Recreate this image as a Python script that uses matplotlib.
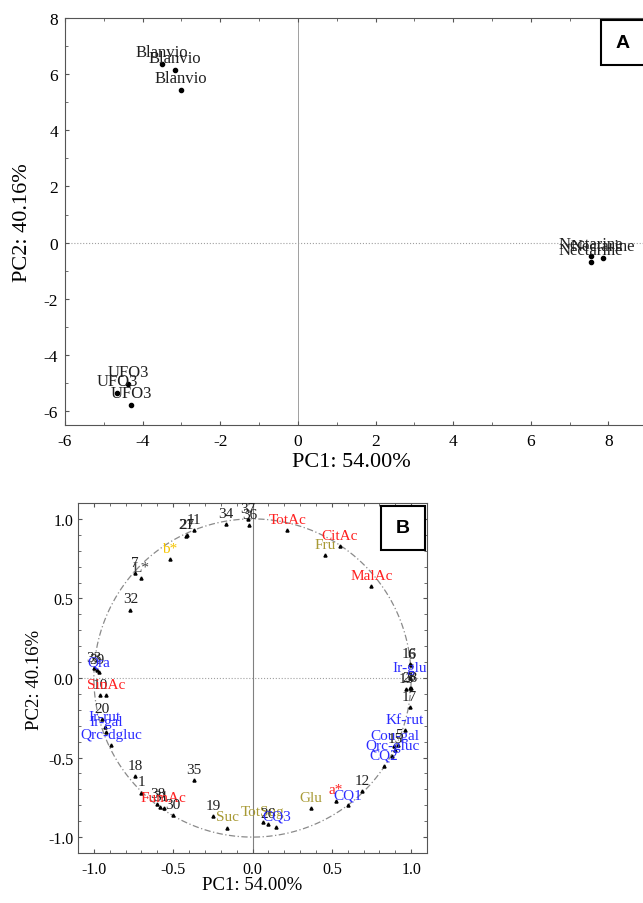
import numpy as np
import matplotlib.pyplot as plt
from matplotlib.patches import Rectangle
from matplotlib.ticker import MultipleLocator

plt.rcParams["font.family"] = ["Liberation Serif", "DejaVu Serif"]
plt.rcParams["axes.unicode_minus"] = False

# Panel A: sample scores
a_labels = ["Blanvio", "Blanvio", "Blanvio",
            "Nectarine", "Nectarine", "Nectarine",
            "UFO3", "UFO3", "UFO3"]
a_x = [-3.50, -3.16, -3.01, 7.54, 7.85, 7.54, -4.30, -4.65, -4.38]
a_y = [6.35, 6.16, 5.43, -0.70, -0.55, -0.49, -5.80, -5.35, -5.05]

# Panel B: variable loadings
b_labels = ["37", "36", "34", "11", "21", "27", "7", "L*", "b*", "32",
            "33", "39", "Qra", "10", "SinAc", "20", "Ir-rut", "Ir-gal", "Qrc-dgluc",
            "18", "1", "38", "31", "FumAc", "30", "35", "19", "Suc", "TotSug",
            "26", "CQ3", "Glu", "a*", "CQ1", "12", "CQ2", "Qrc-gluc", "Cou-gal",
            "15", "5", "Kf-rut", "17", "13", "28", "8", "Ir-glu", "16", "6",
            "MalAc", "CitAc", "Fru", "TotAc"]
b_x = [-0.03, -0.02, -0.17, -0.37, -0.42, -0.41, -0.74, -0.70, -0.52, -0.77,
       -1.00, -0.98, -0.97, -0.96, -0.925, -0.946, -0.93, -0.925, -0.89,
       -0.74, -0.70, -0.60, -0.58, -0.56, -0.50, -0.37, -0.25, -0.16, 0.066,
       0.10, 0.15, 0.37, 0.525, 0.60, 0.69, 0.83, 0.88, 0.895,
       0.90, 0.92, 0.96, 0.99, 0.97, 0.99, 1.00, 0.99, 0.99, 1.00,
       0.75, 0.55, 0.46, 0.22]
b_y = [1.00, 0.96, 0.965, 0.93, 0.895, 0.90, 0.66, 0.63, 0.745, 0.43,
       0.06, 0.05, 0.035, -0.11, -0.11, -0.26, -0.31, -0.34, -0.42,
       -0.615, -0.72, -0.79, -0.81, -0.82, -0.86, -0.64, -0.87, -0.94, -0.905,
       -0.92, -0.935, -0.82, -0.77, -0.80, -0.71, -0.55, -0.49, -0.43,
       -0.45, -0.42, -0.33, -0.185, -0.07, -0.065, -0.06, 0.00, 0.09, 0.08,
       0.58, 0.83, 0.77, 0.93]
b_group = ["n", "n", "n", "n", "n", "n", "n", "L", "b", "n",
           "n", "n", "p", "n", "ac", "n", "p", "p", "p",
           "n", "n", "n", "n", "ac", "n", "n", "n", "s", "s",
           "n", "p", "s", "ac", "p", "n", "p", "p", "p",
           "n", "n", "p", "n", "n", "n", "n", "p", "n", "n",
           "ac", "ac", "s", "ac"]
group_colors = {"n": "#202020", "L": "#404040", "b": "#f5c400",
                "ac": "#ff2020", "s": "#a89a35", "p": "#2b2bff"}

fig = plt.figure(figsize=(6.43, 9.04), dpi=100)

# ---- Panel A
axA = fig.add_axes([0.1011, 0.5288, 0.9176, 0.450])
axA.axhline(0, color="#a0a0a0", lw=0.8, ls=":", zorder=1)
axA.axvline(0, color="#a0a0a0", lw=0.7, zorder=1)
axA.plot(a_x, a_y, "o", color="black", ms=3, zorder=3)
for lab, x, y in zip(a_labels, a_x, a_y):
    axA.annotate(lab, (x, y), xytext=(0, 3), textcoords="offset points",
                 ha="center", va="bottom", fontsize=12, color="#202020")
axA.set_xlim(-6, 9.2)
axA.set_ylim(-6.5, 8)
axA.xaxis.set_major_locator(MultipleLocator(2))
axA.xaxis.set_minor_locator(MultipleLocator(1))
axA.yaxis.set_major_locator(MultipleLocator(2))
axA.yaxis.set_minor_locator(MultipleLocator(1))
axA.tick_params(which="both", direction="in", top=True, right=True,
                labelsize=12.5, color="#555555")
axA.tick_params(which="major", length=3)
axA.tick_params(which="minor", length=2)
axA.tick_params(axis="x", which="major", pad=6)
axA.tick_params(axis="y", which="major", pad=5)
for s in axA.spines.values():
    s.set_color("#555555")
fig.text(0.547, 0.488, "PC1: 54.00%", ha="center", va="center", fontsize=16)
fig.text(0.035, 0.754, "PC2: 40.16%", ha="center", va="center",
         rotation=90, fontsize=16)

# ---- Panel B
axB = fig.add_axes([0.1213, 0.0553, 0.5428, 0.3872])
axB.axhline(0, color="#a0a0a0", lw=0.8, ls=":", zorder=1)
axB.axvline(0, color="#808080", lw=0.8, zorder=1)
t = np.linspace(0, 2 * np.pi, 400)
axB.plot(np.cos(t), np.sin(t), color="#8a8a8a", lw=0.9, ls=(0, (5, 2, 1, 2)), zorder=2)
axB.plot(b_x, b_y, "^", color="black", ms=2.2, zorder=3)
for lab, x, y, g in zip(b_labels, b_x, b_y, b_group):
    axB.annotate(lab, (x, y), xytext=(0, 3), textcoords="offset points",
                 ha="center", va="bottom", fontsize=11,
                 color=group_colors[g], clip_on=True)
axB.set_xlim(-1.1, 1.1)
axB.set_ylim(-1.1, 1.1)
axB.set_xticks([-1.0, -0.5, 0.0, 0.5, 1.0])
axB.set_yticks([-1.0, -0.5, 0.0, 0.5, 1.0])
axB.xaxis.set_minor_locator(MultipleLocator(0.1))
axB.yaxis.set_minor_locator(MultipleLocator(0.1))
axB.xaxis.set_major_formatter(lambda v, p: f"{v:.1f}")
axB.yaxis.set_major_formatter(lambda v, p: f"{v:.1f}")
axB.tick_params(which="both", direction="in", top=True, right=True,
                labelsize=11.5, color="#555555")
axB.tick_params(which="major", length=3)
axB.tick_params(which="minor", length=2)
axB.tick_params(axis="x", which="major", pad=6)
for s in axB.spines.values():
    s.set_color("#555555")
fig.text(0.392, 0.020, "PC1: 54.00%", ha="center", va="center", fontsize=13.5)
fig.text(0.054, 0.248, "PC2: 40.16%", ha="center", va="center",
         rotation=90, fontsize=13.5)

# ---- Panel tags
for (x0, y0, w, h), tag in [((0.9347, 0.927, 0.0684, 0.0498), "A"),
                            ((0.5925, 0.3905, 0.0684, 0.0487), "B")]:
    fig.add_artist(Rectangle((x0, y0), w, h, transform=fig.transFigure,
                             facecolor="white", edgecolor="black", lw=1.5))
    fig.text(x0 + w / 2, y0 + h / 2, tag, ha="center", va="center",
             fontsize=14, fontweight="bold", family="Liberation Sans")

fig.savefig("out.png", dpi=100)
